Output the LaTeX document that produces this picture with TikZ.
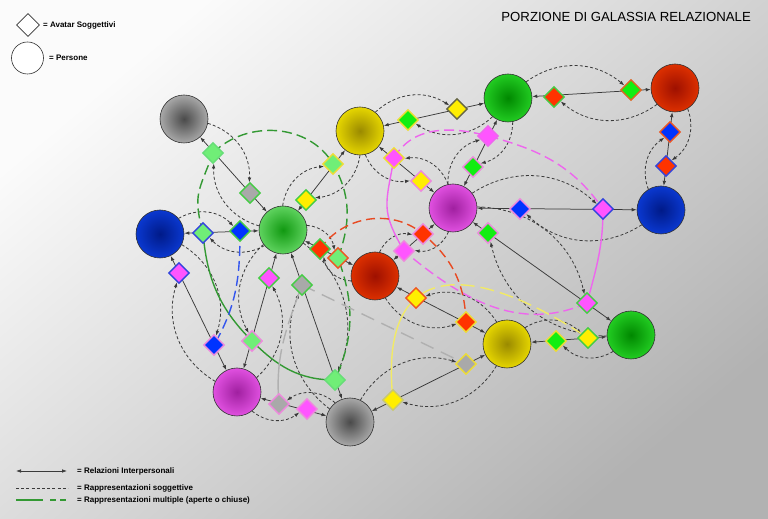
\documentclass[tikz,border=0pt]{standalone}
\usepackage{fontspec}
\setmainfont{Liberation Sans}
\usetikzlibrary{shapes.geometric,arrows.meta}
\pgfdeclarelayer{bg}
\pgfdeclarelayer{edges}
\pgfdeclarelayer{multi}
\pgfsetlayers{bg,edges,multi,main}

% person colours (inner / outer)
\definecolor{gyI}{HTML}{4A4A4A}\definecolor{gyO}{HTML}{A8A8A8}
\definecolor{lgI}{HTML}{119911}\definecolor{lgO}{HTML}{5FD35F}
\definecolor{gnI}{HTML}{008800}\definecolor{gnO}{HTML}{22CC22}
\definecolor{blI}{HTML}{001A88}\definecolor{blO}{HTML}{0A38D0}
\definecolor{ylI}{HTML}{9A8A00}\definecolor{ylO}{HTML}{E6D600}
\definecolor{rdI}{HTML}{9E1000}\definecolor{rdO}{HTML}{DD3000}
\definecolor{mgI}{HTML}{A020A0}\definecolor{mgO}{HTML}{E050E0}
% avatar fills
\definecolor{fLG}{HTML}{70EE77}
\definecolor{fG}{HTML}{11EE11}
\definecolor{fGr}{HTML}{A9A9A9}
\definecolor{fY}{HTML}{FFEE00}
\definecolor{fR}{HTML}{FF3300}
\definecolor{fB}{HTML}{0033FF}
\definecolor{fM}{HTML}{FF55FF}
% avatar borders
\definecolor{bG}{HTML}{44CC44}
\definecolor{bLG}{HTML}{66DD77}
\definecolor{bY}{HTML}{EEDD33}
\definecolor{bR}{HTML}{EE5522}
\definecolor{bO}{HTML}{DD6622}
\definecolor{bB}{HTML}{3344DD}
\definecolor{bP}{HTML}{EE88DD}
\definecolor{bM}{HTML}{EE66EE}
\definecolor{bD}{HTML}{666644}
\definecolor{bGY}{HTML}{C8C870}
% multi curves
\definecolor{cGreen}{HTML}{339933}
\definecolor{cMag}{HTML}{EE66EE}
\definecolor{cRed}{HTML}{E84A22}
\definecolor{cYel}{HTML}{F2EA66}
\definecolor{cBlue}{HTML}{3355EE}
\definecolor{cGray}{HTML}{B0B0B0}
\definecolor{lineC}{HTML}{3A3A3A}

\tikzset{
  person/.style 2 args={circle,minimum size=48pt,inner sep=0pt,draw=black!80,line width=0.6pt,inner color=#1,outer color=#2},
  avatar/.style 2 args={diamond,minimum size=21pt,inner sep=0pt,fill=#1,draw=#2,line width=1.4pt},
  rel/.style={{Latex[length=5pt,width=3.6pt]}-{Latex[length=5pt,width=3.6pt]},draw=lineC,line width=0.75pt},
  subj/.style={-{Latex[length=5pt,width=3.6pt]},draw=lineC,line width=0.8pt,dash pattern=on 3pt off 2.2pt},
  subjline/.style={draw=lineC,line width=0.8pt,dash pattern=on 3pt off 2.2pt},
  multi/.style={line width=1.4pt},
  ldash/.style={dash pattern=on 10pt off 5pt},
  legtext/.style={anchor=west,inner sep=0pt,font=\fontsize{8}{10}\selectfont\bfseries},
}

\begin{document}
\begin{tikzpicture}[x=1pt,y=1pt]
\useasboundingbox (0,0) rectangle (768,519);
\begin{pgfonlayer}{bg}
\shade[top color=gray!3,bottom color=gray!60,shading angle=40] (0,0) rectangle (768,519);
\end{pgfonlayer}

% title and legend
\node[anchor=east,inner sep=0pt,font=\fontsize{13.2}{15}\selectfont] (title) at (751,519-17) {PORZIONE DI GALASSIA RELAZIONALE};
\node[diamond,minimum size=23pt,inner sep=0pt,draw=black!80,fill=white,line width=0.6pt] (legD) at (28,519-25) {};
\node[legtext] (legDt) at (43,519-25) {= Avatar Soggettivi};
\node[circle,minimum size=32pt,inner sep=0pt,draw=black!80,fill=white,line width=0.6pt] (legC) at (27.5,519-58) {};
\node[legtext] (legCt) at (49,519-58) {= Persone};

\coordinate (l1a) at (16,519-471); \coordinate (l1b) at (67,519-471);
\draw[rel] (l1a) -- (l1b);
\node[legtext] (l1t) at (77,519-471) {= Relazioni Interpersonali};
\coordinate (l2a) at (16,519-488); \coordinate (l2b) at (68,519-488);
\draw[subjline] (l2a) -- (l2b);
\node[legtext] (l2t) at (77,519-488) {= Rappresentazioni soggettive};
\coordinate (l3a) at (16,519-500); \coordinate (l3b) at (43,519-500);
\coordinate (l3c) at (50,519-500); \coordinate (l3d) at (68,519-500);
\draw[multi,cGreen] (l3a) -- (l3b);
\draw[multi,cGreen,dash pattern=on 6pt off 4pt] (l3c) -- (l3d);
\node[legtext] (l3t) at (77,519-500) {= Rappresentazioni multiple (aperte o chiuse)};

% persons
\node[person={gyI}{gyO}] (P1) at (184,519-119) {};
\node[person={lgI}{lgO}] (P2) at (283,519-230) {};
\node[person={blI}{blO}] (P3) at (160,519-234) {};
\node[person={ylI}{ylO}] (P4) at (360,519-131) {};
\node[person={gnI}{gnO}] (P5) at (508,519-98) {};
\node[person={rdI}{rdO}] (P6) at (675,519-88) {};
\node[person={mgI}{mgO}] (P7) at (453,519-208) {};
\node[person={blI}{blO}] (P8) at (661,519-210) {};
\node[person={rdI}{rdO}] (P9) at (375,519-276) {};
\node[person={ylI}{ylO}] (P10) at (507,519-344) {};
\node[person={gnI}{gnO}] (P11) at (631,519-335) {};
\node[person={mgI}{mgO}] (P12) at (237,519-392) {};
\node[person={gyI}{gyO}] (P13) at (350,519-422) {};

% avatars
\node[avatar={fLG}{bLG}] (D1) at (213,519-153) {};
\node[avatar={fGr}{bG}] (D2) at (250,519-193) {};
\node[avatar={fLG}{bB}] (D3) at (203,519-233) {};
\node[avatar={fB}{bG}] (D4) at (240,519-231) {};
\node[avatar={fY}{bG}] (D5) at (306,519-200) {};
\node[avatar={fLG}{bY}] (D6) at (333,519-164) {};
\node[avatar={fG}{bY}] (D7) at (408,519-120) {};
\node[avatar={fY}{bD}] (D8) at (457,519-109) {};
\node[avatar={fR}{bG}] (D9) at (554,519-97) {};
\node[avatar={fG}{bO}] (D10) at (631,519-90) {};
\node[avatar={fB}{bR}] (D11) at (670,519-132) {};
\node[avatar={fR}{bB}] (D12) at (666,519-166) {};
\node[avatar={fM}{bM}] (D13) at (488,519-136) {};
\node[avatar={fG}{bP}] (D14) at (473,519-167) {};
\node[avatar={fM}{bY}] (D15) at (394,519-158) {};
\node[avatar={fY}{bP}] (D16) at (421,519-181) {};
\node[avatar={fB}{bP}] (D17) at (520,519-209) {};
\node[avatar={fM}{bB}] (D18) at (603,519-209) {};
\node[avatar={fG}{bP}] (D19) at (488,519-233) {};
\node[avatar={fM}{bG}] (D20) at (587,519-303) {};
\node[avatar={fR}{bG}] (D21) at (320,519-249) {};
\node[avatar={fLG}{bR}] (D22) at (338,519-258) {};
\node[avatar={fM}{bP}] (D23) at (404,519-251) {};
\node[avatar={fR}{bP}] (D24) at (423,519-234) {};
\node[avatar={fY}{bR}] (D25) at (416,519-298) {};
\node[avatar={fR}{bY}] (D26) at (466,519-322) {};
\node[avatar={fG}{bY}] (D27) at (556,519-341) {};
\node[avatar={fY}{bG}] (D28) at (588,519-338) {};
\node[avatar={fGr}{bY}] (D29) at (466,519-364) {};
\node[avatar={fY}{bGY}] (D30) at (393,519-400) {};
\node[avatar={fM}{bB}] (D31) at (179,519-273) {};
\node[avatar={fB}{bP}] (D32) at (214,519-345) {};
\node[avatar={fM}{bG}] (D33) at (269,519-278) {};
\node[avatar={fLG}{bP}] (D34) at (252,519-341) {};
\node[avatar={fGr}{bG}] (D35) at (302,519-285) {};
\node[avatar={fLG}{bLG}] (D36) at (335,519-380) {};
\node[avatar={fGr}{bP}] (D37) at (279,519-404) {};
\node[avatar={fM}{bP}] (D38) at (307,519-409) {};

% relations and subjective representations
\begin{pgfonlayer}{edges}
\foreach \a/\b in {P1/P2,P3/P2,P2/P4,P4/P5,P5/P6,P6/P8,P7/P5,P4/P7,P7/P8,P7/P11,P2/P9,P9/P7,P9/P10,P10/P11,P10/P13,P3/P12,P2/P12,P2/P13,P12/P13}
  {\draw[rel] (\a) -- (\b);}
\foreach \a/\b/\da/\db in {P1/P2/D1/D2,P3/P2/D3/D4,P2/P4/D5/D6,P4/P5/D7/D8,P5/P6/D9/D10,P6/P8/D11/D12,P7/P5/D14/D13,P7/P8/D17/D18,P7/P11/D19/D20,P2/P9/D21/D22,P9/P7/D23/D24,P10/P11/D27/D28,P10/P13/D29/D30,P3/P12/D31/D32,P2/P13/D35/D36}
  {\draw[subj] (\a) to[bend left=38] (\db);
   \draw[subj] (\b) to[bend left=38] (\da);}
\foreach \a/\b/\da/\db in {P4/P7/D15/D16,P9/P10/D25/D26,P2/P12/D33/D34,P12/P13/D37/D38}
  {\draw[subj] (\a) to[bend right=38] (\db);
   \draw[subj] (\b) to[bend right=38] (\da);}
\end{pgfonlayer}

% multiple representations
\begin{pgfonlayer}{multi}
\draw[multi,cGreen,ldash] (D1.center) to[out=45,in=120] (D6.center) to[out=-60,in=70] (D22.center) to[out=-70,in=66] (D36.center);
\draw[multi,cGreen] (D36.center) to[out=180,in=-45] (D34.center) to[out=135,in=-85] (D3.center);
\draw[multi,cGreen,ldash] (D3.center) to[out=105,in=-110,looseness=1.3] (D1.center);

\draw[multi,cMag,ldash] (D15.center) to[out=60,in=165] (D13.center) to[out=-15,in=125] (D18.center);
\draw[multi,cMag] (D18.center) to[out=-90,in=75] (D20.center);
\draw[multi,cMag,ldash] (D20.center) to[out=204,in=-40] (D23.center);
\draw[multi,cMag] (D23.center) to[out=120,in=-100,looseness=1.3] (D15.center);

\draw[multi,cRed,dash pattern=on 9pt off 5pt] (D21.center) to[out=55,in=140] (D24.center) to[out=-40,in=92] (D26.center);

\draw[multi,cBlue,ldash] (D4.center) to[out=-90,in=60] (D32.center);

\draw[multi,cYel,dash pattern=on 110pt off 6pt on 14pt off 6pt on 14pt off 6pt on 14pt off 6pt on 14pt off 6pt on 14pt off 6pt on 14pt off 6pt on 14pt off 6pt on 14pt off 6pt on 14pt off 6pt on 14pt off 6pt]
  (D30.center) .. controls +(-15,140) and +(-120,80) .. (D28.center);

\draw[multi,cGray,dash pattern=on 55pt off 6pt on 14pt off 6pt on 14pt off 6pt on 30pt off 6pt] (D37.center) to[out=95,in=-110] (D35.center);
\draw[multi,cGray,dash pattern=on 14pt off 8pt] (D35.center) -- (D29.center);
\end{pgfonlayer}
\end{tikzpicture}
\end{document}
